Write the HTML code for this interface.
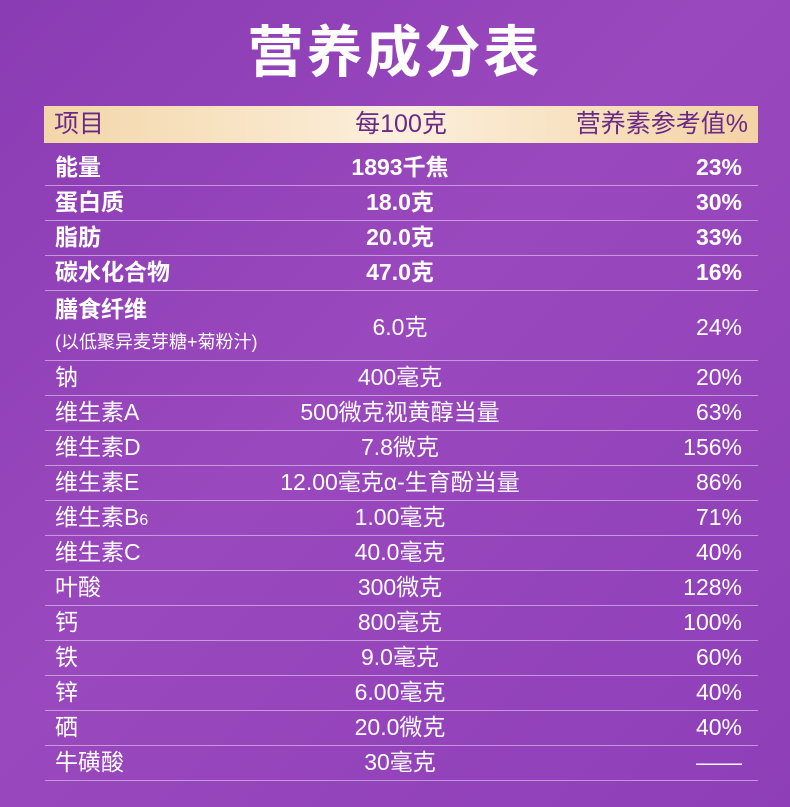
<!DOCTYPE html><html><head><meta charset="utf-8"><style>
body{margin:0;width:790px;height:807px;overflow:hidden;background:linear-gradient(135deg,#8a3cb4 0%,#9a48bd 45%,#8e3fb8 100%);font-family:"Liberation Sans","Noto Sans CJK SC",sans-serif;color:#fff;position:relative}
.t{position:absolute;top:18px;left:0;width:790px;text-align:center;font-size:56px;font-weight:bold;letter-spacing:3px;line-height:70px}
.h{position:absolute;left:44px;top:106px;width:714px;height:37px;background:linear-gradient(90deg,#f3d6a8 0%,#fcefdc 50%,#f3d3a4 100%);color:#6a2a88;font-size:25px;line-height:37px}
.r{position:absolute;left:45px;width:713px;border-bottom:1px solid rgba(255,255,255,.45);font-size:23px}
.a{position:absolute;left:10px}.b{position:absolute;left:0;width:710px;text-align:center}.c{position:absolute;right:16px}
.bo{font-weight:bold}
</style></head><body>
<div class="t">营养成分表</div>
<div class="h"><span style="position:absolute;left:10px">项目</span><span style="position:absolute;left:0;width:714px;text-align:center">每100克</span><span style="position:absolute;right:10px">营养素参考值%</span></div>
<div class="r bo" style="top:150px;height:35px;line-height:35px"><span class="a">能量</span><span class="b">1893千焦</span><span class="c">23%</span></div>
<div class="r bo" style="top:185px;height:35px;line-height:35px"><span class="a">蛋白质</span><span class="b">18.0克</span><span class="c">30%</span></div>
<div class="r bo" style="top:220px;height:35px;line-height:35px"><span class="a">脂肪</span><span class="b">20.0克</span><span class="c">33%</span></div>
<div class="r bo" style="top:255px;height:35px;line-height:35px"><span class="a">碳水化合物</span><span class="b">47.0克</span><span class="c">16%</span></div>
<div class="r" style="top:290px;height:70px"><span class="a bo" style="top:4px;line-height:30px">膳食纤维</span><span class="a" style="top:38px;font-size:18px;line-height:28px">(以低聚异麦芽糖+菊粉汁)</span><span class="b" style="top:20px;line-height:35px">6.0克</span><span class="c" style="top:20px;line-height:35px">24%</span></div>
<div class="r" style="top:360px;height:35px;line-height:35px"><span class="a">钠</span><span class="b">400毫克</span><span class="c">20%</span></div>
<div class="r" style="top:395px;height:35px;line-height:35px"><span class="a">维生素A</span><span class="b">500微克视黄醇当量</span><span class="c">63%</span></div>
<div class="r" style="top:430px;height:35px;line-height:35px"><span class="a">维生素D</span><span class="b">7.8微克</span><span class="c">156%</span></div>
<div class="r" style="top:465px;height:35px;line-height:35px"><span class="a">维生素E</span><span class="b">12.00毫克α-生育酚当量</span><span class="c">86%</span></div>
<div class="r" style="top:500px;height:35px;line-height:35px"><span class="a">维生素B<small style="font-size:16px">6</small></span><span class="b">1.00毫克</span><span class="c">71%</span></div>
<div class="r" style="top:535px;height:35px;line-height:35px"><span class="a">维生素C</span><span class="b">40.0毫克</span><span class="c">40%</span></div>
<div class="r" style="top:570px;height:35px;line-height:35px"><span class="a">叶酸</span><span class="b">300微克</span><span class="c">128%</span></div>
<div class="r" style="top:605px;height:35px;line-height:35px"><span class="a">钙</span><span class="b">800毫克</span><span class="c">100%</span></div>
<div class="r" style="top:640px;height:35px;line-height:35px"><span class="a">铁</span><span class="b">9.0毫克</span><span class="c">60%</span></div>
<div class="r" style="top:675px;height:35px;line-height:35px"><span class="a">锌</span><span class="b">6.00毫克</span><span class="c">40%</span></div>
<div class="r" style="top:710px;height:35px;line-height:35px"><span class="a">硒</span><span class="b">20.0微克</span><span class="c">40%</span></div>
<div class="r" style="top:745px;height:35px;line-height:35px"><span class="a">牛磺酸</span><span class="b">30毫克</span><span class="c">——</span></div>
</body></html>
